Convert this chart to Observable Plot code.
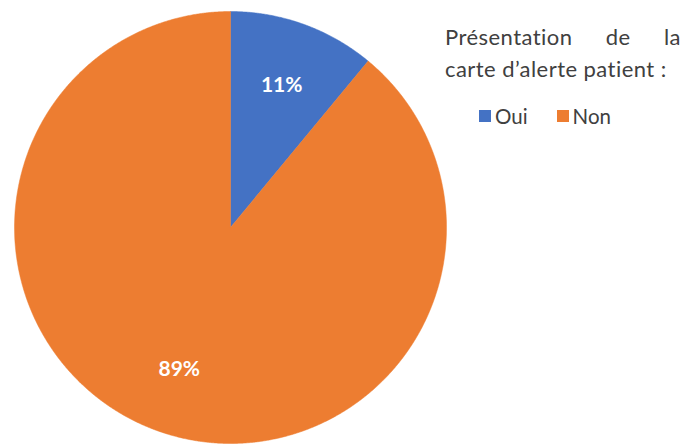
<!DOCTYPE html>
<html>
<head>
<meta charset="utf-8">
<script src="https://cdn.jsdelivr.net/npm/d3@7"></script>
<script src="https://cdn.jsdelivr.net/npm/@observablehq/plot@0.6"></script>
<style>
  html, body { margin: 0; padding: 0; background: #fff; }
  #wrap { position: relative; width: 688px; height: 446px; overflow: hidden; }
  #legend { position: absolute; left: 445px; top: 21px; width: 236px; font-family: Lato, "Open Sans", sans-serif; color: #404040; }
  .tl { font-size: 22px; letter-spacing: 0.45px; line-height: 32px; white-space: nowrap; }
  .tl.j { text-align: justify; text-align-last: justify; white-space: normal; }
  #lsw { margin-top: 19px; padding-left: 34px; font-size: 20.5px; line-height: 24px; white-space: nowrap; }
  .item { display: inline-block; margin-right: 29px; }
  .sw { display: inline-block; width: 12px; height: 12px; vertical-align: 2px; margin-right: 4px; }
</style>
</head>
<body>
<div id="wrap"><div id="legend"><div id="ltitle"></div><div id="lsw"></div></div></div>
<script>
const categories = ["Oui", "Non"];
const values = [11, 89];
const labels = ["11%", "89%"];
const colors = ["#4472C4", "#ED7D31"];
const legendTitleLines = ["Présentation de la", "carte d\u2019alerte patient :"];

const pie = d3.pie().sort(null).value(d => d.value)(categories.map((c, i) => ({key: c, value: values[i], label: labels[i]})));

// slice outlines in unit-circle coordinates (angle from top, clockwise)
const slicePts = [];
for (const s of pie) {
  slicePts.push({key: s.data.key, x: 0, y: 0});
  const n = Math.max(2, Math.ceil((s.endAngle - s.startAngle) / 0.005));
  for (let k = 0; k <= n; k++) {
    const a = s.startAngle + (s.endAngle - s.startAngle) * k / n;
    slicePts.push({key: s.data.key, x: Math.sin(a), y: Math.cos(a)});
  }
  slicePts.push({key: s.data.key, x: 0, y: 0});
}
const labelR = 0.7;
const labelPts = pie.map(s => {
  const a = (s.startAngle + s.endAngle) / 2;
  return {label: s.data.label, x: labelR * Math.sin(a), y: labelR * Math.cos(a)};
});

const cx = 230, cy = 227, R = 216;
const plot = Plot.plot({
  width: 688,
  height: 446,
  margin: 0,
  x: {domain: [-1, 1], range: [cx - R, cx + R], axis: null},
  y: {domain: [-1, 1], range: [cy + R, cy - R], axis: null},
  color: {domain: categories, range: colors},
  style: {background: "white"},
  marks: [
    Plot.line(slicePts, {x: "x", y: "y", z: "key", fill: "key", stroke: "key", strokeWidth: 0.5, curve: "linear"}),
    Plot.text(labelPts, {x: "x", y: "y", text: "label", fill: "white", fontSize: 21, fontWeight: "bold", fontFamily: "Lato, 'Open Sans', sans-serif"})
  ]
});
document.getElementById("wrap").prepend(plot);

const title = document.getElementById("ltitle");
legendTitleLines.forEach((t, i) => {
  const d = document.createElement("div");
  d.className = "tl" + (i === 0 ? " j" : "");
  d.textContent = t;
  title.appendChild(d);
});

const color = Plot.scale({color: {domain: categories, range: colors}});
const sw = document.getElementById("lsw");
categories.forEach(c => {
  const it = document.createElement("span");
  it.className = "item";
  const b = document.createElement("span");
  b.className = "sw";
  b.style.background = color.apply(c);
  it.appendChild(b);
  it.appendChild(document.createTextNode(c));
  sw.appendChild(it);
});
</script>
</body>
</html>
